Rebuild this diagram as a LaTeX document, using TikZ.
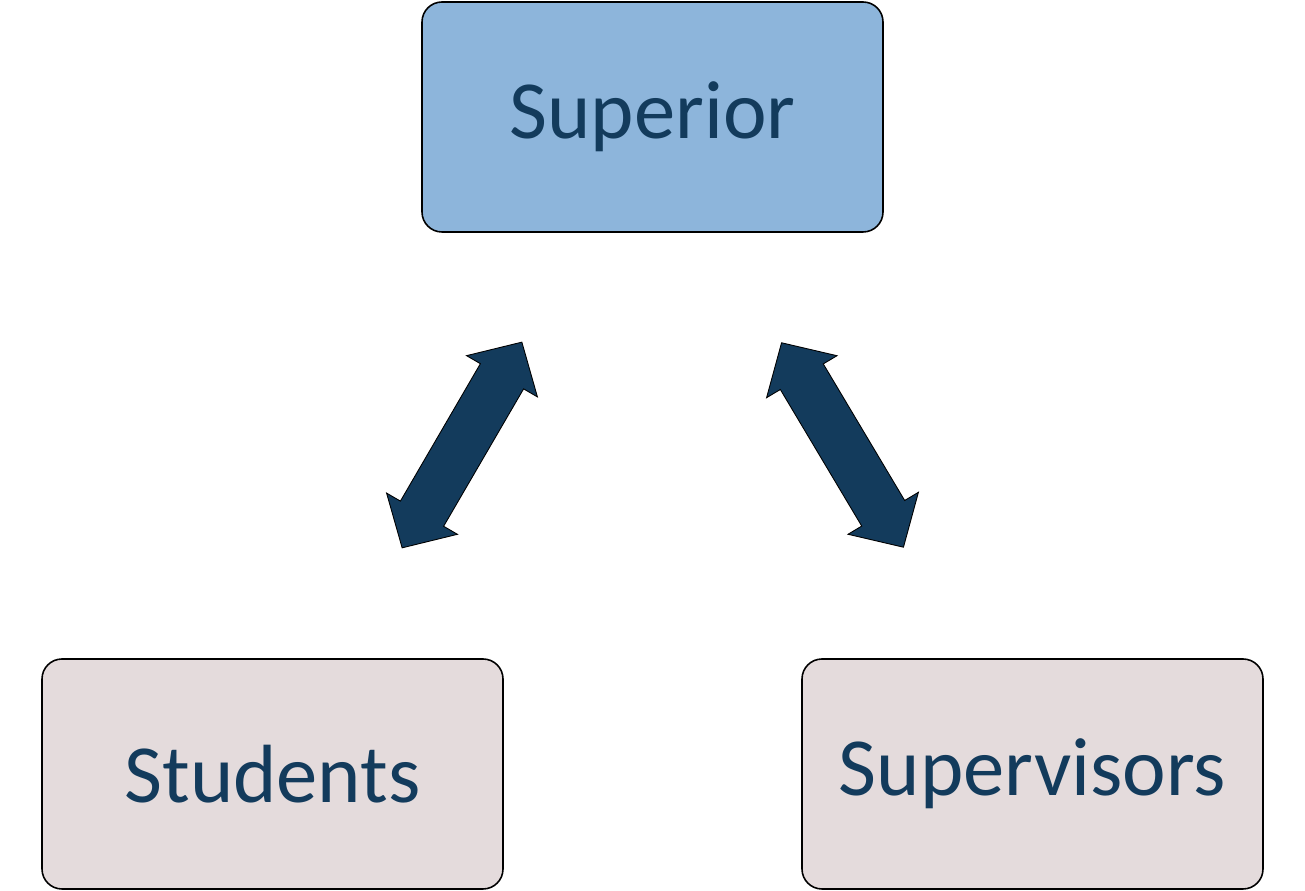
\documentclass[tikz,border=0pt]{standalone}
\usepackage{fontspec}
\setmainfont{Carlito}
\definecolor{boxblue}{RGB}{141,181,219}
\definecolor{boxrose}{RGB}{228,219,220}
\definecolor{inkblue}{RGB}{19,59,92}
\tikzset{>=stealth,
  rolebox/.style={draw=black, line width=0.9pt, rounded corners=0.4cm,
    minimum width=9.22cm, minimum height=4.6cm, text=inkblue,
    font=\fontsize{47}{56}\selectfont},
  blockarrow/.style={draw=black, line width=0.5pt, fill=inkblue}}

\begin{document}
\begin{tikzpicture}
\useasboundingbox (0,0) rectangle (26.1,17.82);
\coordinate (P) at (13.05,15.48);
\coordinate (St) at (5.45,2.34);
\coordinate (Sv) at (20.65,2.34);
\coordinate (L) at (9.24,8.92);
\coordinate (R) at (16.85,8.92);
\node[rolebox, fill=boxblue] (superior) at (P) {Superior};
\node[rolebox, fill=boxrose] (students) at (St) {Students};
\node[rolebox, fill=boxrose] (supervisors) at (Sv) {Supervisors};
\foreach \c/\a in {L/59.8, R/120.8}
\draw[blockarrow, shift={(\c)}, rotate=\a] (2.38,0) -- (1.59,0.82) -- (1.59,0.5)
  -- (-1.59,0.5) -- (-1.59,0.82) -- (-2.38,0) -- (-1.59,-0.82) -- (-1.59,-0.5)
  -- (1.59,-0.5) -- (1.59,-0.82) -- cycle;
\end{tikzpicture}
\end{document}
